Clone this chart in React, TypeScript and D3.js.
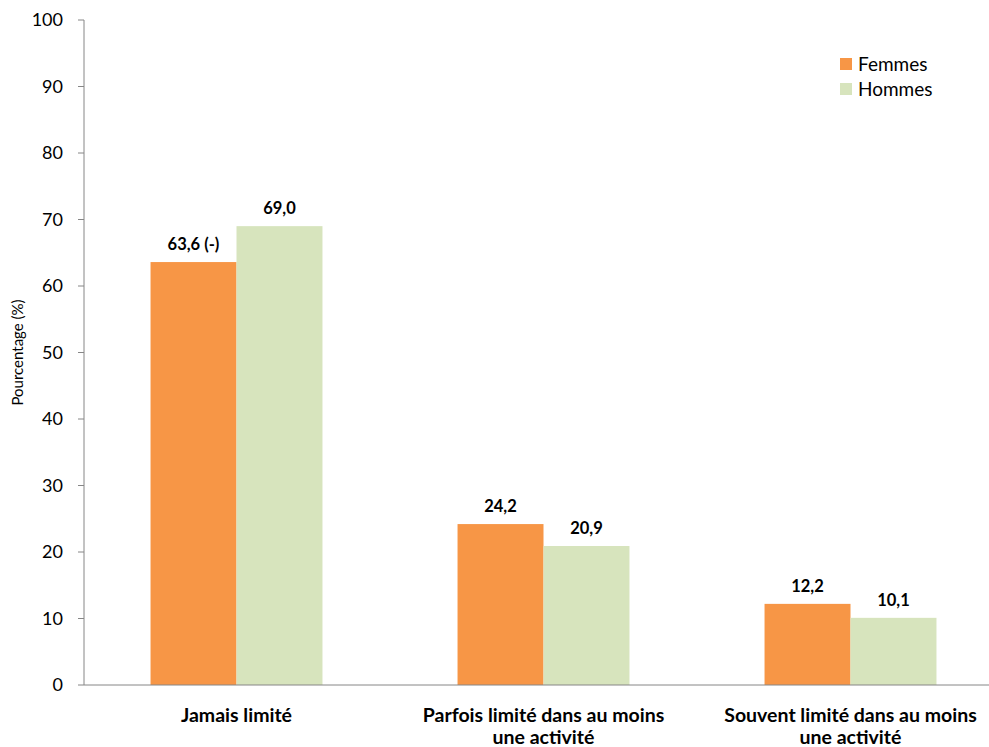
import React from "react";
import * as d3 from "d3";

const categories = [
  ["Jamais limité"],
  ["Parfois limité dans au moins", "une activité"],
  ["Souvent limité dans au moins", "une activité"],
];
const seriesNames = ["Femmes", "Hommes"];
const femmes = [63.6, 24.2, 12.2];
const hommes = [69.0, 20.9, 10.1];
const femmesLabels = ["63,6 (-)", "24,2", "12,2"];
const hommesLabels = ["69,0", "20,9", "10,1"];
const yTicks = [0, 10, 20, 30, 40, 50, 60, 70, 80, 90, 100];
const colors = ["#F79646", "#D7E4BD"];

const W = 989;
const H = 747;
const FONT = "Lato, 'Open Sans', sans-serif";

export default function App() {
  const x0 = 83;
  const x1 = 1004;
  const y = d3.scaleLinear().domain([0, 100]).range([685, 20]);
  const xBand = d3
    .scaleBand<number>()
    .domain(d3.range(categories.length))
    .range([x0, x1])
    .padding(0);
  const groupFrac = 0.56;
  const sub = d3
    .scaleBand<number>()
    .domain([0, 1])
    .range([0, xBand.bandwidth() * groupFrac]);
  const series = [femmes, hommes];
  const labels = [femmesLabels, hommesLabels];

  return (
    <svg
      width={W}
      height={H}
      style={{ position: "absolute", left: 0, top: 0, background: "#fff" }}
      fontFamily={FONT}
    >
      {/* y axis */}
      <line x1={84} x2={84} y1={y(100)} y2={y(0)} stroke="#868686" strokeWidth={1} />
      {yTicks.map((t) => (
        <g key={t}>
          <line x1={78} x2={84} y1={y(t)} y2={y(t)} stroke="#868686" />
          <text
            x={63}
            y={y(t)}
            dy="0.35em"
            textAnchor="end"
            fontSize={18}
            fill="#000"
          >
            {t}
          </text>
        </g>
      ))}
      <text
        transform={`translate(23,${(y(0) + y(100)) / 2}) rotate(-90)`}
        textAnchor="middle"
        fontSize={15}
        fill="#000"
      >
        Pourcentage (%)
      </text>
      {/* bars */}
      {categories.map((c, i) => {
        const cx = (xBand(i) as number) + xBand.bandwidth() / 2;
        const gx = cx - (xBand.bandwidth() * groupFrac) / 2;
        return (
          <g key={i}>
            {series.map((s, k) => {
              const bx = gx + (sub(k) as number);
              return (
                <g key={k}>
                  <rect
                    x={bx}
                    y={y(s[i])}
                    width={sub.bandwidth()}
                    height={y(0) - y(s[i])}
                    fill={colors[k]}
                  />
                  <text
                    x={bx + sub.bandwidth() / 2}
                    y={y(s[i]) - 12}
                    textAnchor="middle"
                    fontSize={16.5}
                    fontWeight="bold"
                    fill="#000"
                  >
                    {labels[k][i]}
                  </text>
                </g>
              );
            })}
            {c.map((line, j) => (
              <text
                key={j}
                x={cx}
                y={722 + j * 22}
                textAnchor="middle"
                fontSize={19.5}
                fontWeight="bold"
                fill="#000"
              >
                {line}
              </text>
            ))}
          </g>
        );
      })}
      {/* x axis */}
      <line x1={84} x2={W} y1={y(0)} y2={y(0)} stroke="#868686" strokeWidth={1} />
      {/* legend */}
      {seriesNames.map((n, k) => (
        <g key={n} transform={`translate(840,${58 + k * 25})`}>
          <rect x={0} y={0} width={12} height={12} fill={colors[k]} />
          <text x={18} y={6} dy="0.35em" fontSize={19} fill="#000">
            {n}
          </text>
        </g>
      ))}
    </svg>
  );
}
